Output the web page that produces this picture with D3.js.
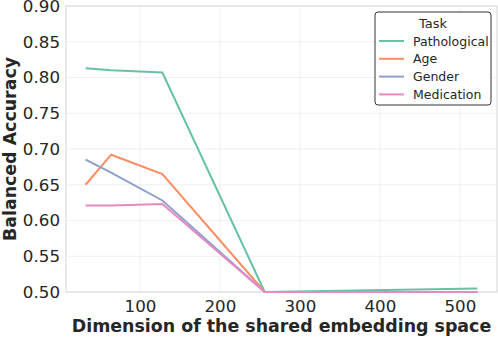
<!DOCTYPE html>
<html>
<head>
<meta charset="utf-8">
<script src="https://cdn.jsdelivr.net/npm/d3@7"></script>
<style>
  body { margin: 0; background: #fff; }
  text { font-family: "DejaVu Sans", sans-serif; fill: #262626; }
</style>
</head>
<body>
<script>
// data
var dims = [32, 64, 128, 256, 522];
var tasks = ["Pathological", "Age", "Gender", "Medication"];
var pathological = [0.813, 0.810, 0.807, 0.500, 0.505];
var age = [0.650, 0.692, 0.665, 0.500, 0.500];
var gender = [0.685, 0.667, 0.628, 0.500, 0.500];
var medication = [0.621, 0.621, 0.623, 0.500, 0.500];
var xTicks = [100, 200, 300, 400, 500];
var yTicks = [0.50, 0.55, 0.60, 0.65, 0.70, 0.75, 0.80, 0.85, 0.90];
var colors = ["#66c2a5", "#fc8d62", "#8da0cb", "#e78ac3"];

var series = [pathological, age, gender, medication];

var width = 498, height = 337,
    margin = {top: 6, left: 66, right: 1, bottom: 45};

var svg = d3.select("body").append("svg")
    .attr("width", width)
    .attr("height", height);

// matplotlib style 5% padding on x
var span = d3.max(dims) - d3.min(dims);
var x = d3.scaleLinear()
    .domain([d3.min(dims) - span * 0.05, d3.max(dims) + span * 0.05])
    .range([margin.left, width - margin.right]);
var y = d3.scaleLinear()
    .domain([0.5, 0.9])
    .range([height - margin.bottom, margin.top]);

// grid
var grid = svg.append("g");
grid.selectAll("line.gx").data(xTicks).enter().append("line")
    .attr("x1", function (d) { return x(d); })
    .attr("x2", function (d) { return x(d); })
    .attr("y1", y.range()[0]).attr("y2", y.range()[1])
    .attr("stroke", "#ececec").attr("stroke-width", 0.8);
grid.selectAll("line.gy").data(yTicks).enter().append("line")
    .attr("x1", x.range()[0]).attr("x2", x.range()[1])
    .attr("y1", function (d) { return y(d); })
    .attr("y2", function (d) { return y(d); })
    .attr("stroke", "#ececec").attr("stroke-width", 0.8);

// axes (labels only, no tick marks)
var xAxis = svg.append("g")
    .attr("transform", "translate(0," + y.range()[0] + ")")
    .call(d3.axisBottom(x).tickValues(xTicks).tickSize(0).tickPadding(8));
var yAxis = svg.append("g")
    .attr("transform", "translate(" + x.range()[0] + ",0)")
    .call(d3.axisLeft(y).tickValues(yTicks).tickFormat(d3.format(".2f")).tickSize(0).tickPadding(6));
[xAxis, yAxis].forEach(function (a) {
    a.select(".domain").remove();
    a.selectAll("text").style("font-size", "16.7px").style("font-family", "DejaVu Sans").attr("fill", "#262626");
});

// frame
svg.append("rect")
    .attr("x", x.range()[0]).attr("y", y.range()[1])
    .attr("width", x.range()[1] - x.range()[0])
    .attr("height", y.range()[0] - y.range()[1])
    .attr("fill", "none").attr("stroke", "#d6d6d6").attr("stroke-width", 1);

// lines
var line = d3.line()
    .x(function (d, i) { return x(dims[i]); })
    .y(function (d) { return y(d); });

svg.selectAll("path.task").data(series).enter().append("path")
    .attr("class", "task")
    .attr("d", line)
    .attr("fill", "none")
    .attr("stroke", function (d, i) { return colors[i]; })
    .attr("stroke-width", 2);

// axis titles
svg.append("text")
    .attr("x", (x.range()[0] + x.range()[1]) / 2)
    .attr("y", 332)
    .attr("text-anchor", "middle")
    .style("font-size", "17.4px").style("font-weight", "bold")
    .text("Dimension of the shared embedding space");
svg.append("text")
    .attr("transform", "translate(16," + (y.range()[0] + y.range()[1]) / 2 + ") rotate(-90)")
    .attr("text-anchor", "middle")
    .style("font-size", "17.4px").style("font-weight", "bold")
    .text("Balanced Accuracy");

// legend
var lg = svg.append("g").attr("transform", "translate(375,12)");
lg.append("rect")
    .attr("width", 116).attr("height", 93)
    .attr("rx", 3)
    .attr("fill", "#fff").attr("stroke", "#333").attr("stroke-width", 1);
lg.append("text")
    .attr("x", 58).attr("y", 16)
    .attr("text-anchor", "middle")
    .style("font-size", "13px")
    .text("Task");
var items = lg.selectAll("g.item").data(tasks).enter().append("g")
    .attr("transform", function (d, i) { return "translate(0," + (29 + i * 17.8) + ")"; });
items.append("line")
    .attr("x1", 4).attr("x2", 29)
    .attr("stroke", function (d, i) { return colors[i]; })
    .attr("stroke-width", 2);
items.append("text")
    .attr("x", 38).attr("y", 4.5)
    .style("font-size", "12.5px")
    .text(function (d) { return d; });
</script>
</body>
</html>
